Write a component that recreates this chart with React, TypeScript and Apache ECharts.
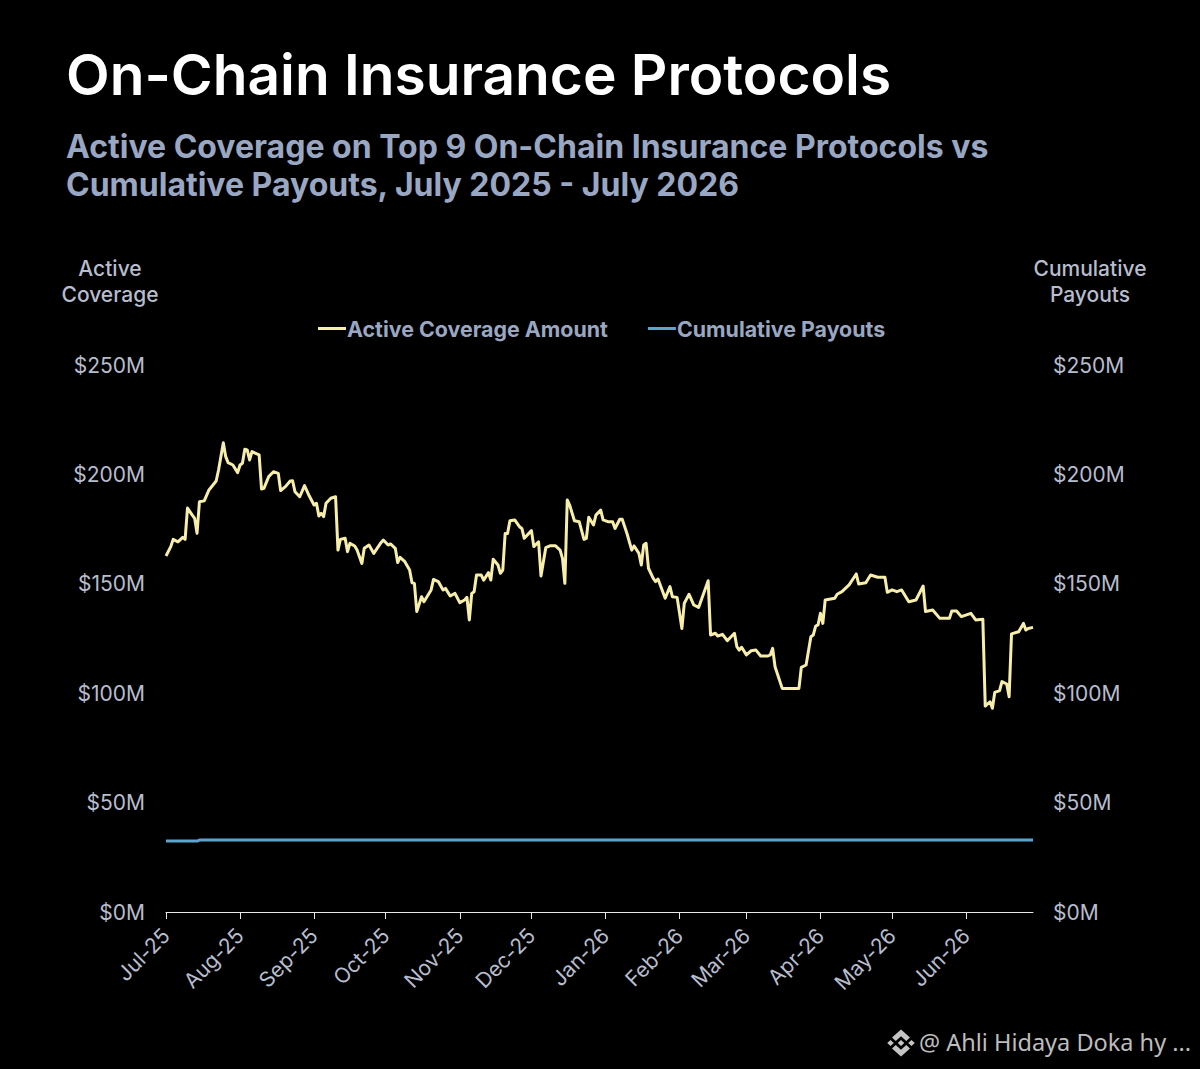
import React, { useEffect, useRef } from "react";
import * as echarts from "echarts";

const titleText = "On-Chain Insurance Protocols";
const subtitleText = "Active Coverage on Top 9 On-Chain Insurance Protocols vs\nCumulative Payouts, July 2025 - July 2026";
const watermarkText = "@ Ahli Hidaya Doka hy ...";

// Days are counted from 1 July 2025.
const monthStartDays = [0, 31, 62, 92, 123, 153, 184, 215, 243, 274, 304, 335];
const monthLabels = ["Jul-25", "Aug-25", "Sep-25", "Oct-25", "Nov-25", "Dec-25", "Jan-26", "Feb-26", "Mar-26", "Apr-26", "May-26", "Jun-26"];
const yTicks = [0, 50, 100, 150, 200, 250];

const coverageDays = [
  0, 2, 3, 5, 7, 8, 9, 11, 12, 13, 14, 16, 18, 20, 21, 22, 24, 25, 26, 28, 30, 31, 32, 33, 34, 35, 36, 39, 40, 41, 43, 45, 47, 48, 50, 52, 53, 54, 56, 58, 60, 62, 63, 64, 65, 66, 67, 69, 71, 72, 73, 75, 76, 77, 79, 80, 82, 83, 85, 87, 90, 91, 93, 94, 96, 97, 98, 100, 102, 103, 104, 105, 107, 108, 111, 112, 114, 116,
  117, 119, 121, 123, 125, 126, 127, 128, 129, 130, 132, 133, 135, 136, 137, 139, 140, 141, 142, 143, 144, 146, 148, 149, 150, 153, 154, 156, 157, 159, 161, 163, 165, 166, 167, 168, 169, 171, 173, 175, 176, 177, 179, 180, 182, 183, 185, 187, 188, 190, 191, 193, 195, 196, 198, 199, 200, 201, 202, 204, 205, 206, 209, 211, 212, 214, 216, 217, 219, 221, 223, 227, 228, 230, 231, 233, 235, 238, 239, 240,
  241, 243, 245, 247, 249, 252, 253, 254, 255, 258, 265, 266, 268, 270, 271, 272, 273, 274, 275, 276, 280, 281, 283, 286, 289, 290, 293, 295, 298, 301, 302, 304, 306, 308, 311, 314, 317, 318, 321, 324, 328, 329, 331, 333, 337, 339, 342, 343, 345, 346, 347, 349, 350, 352, 353, 354, 357, 359, 360, 361, 363,
];
const coverageValues = [
  162.7, 167, 170.3, 169.2, 171.2, 170.3, 184.6, 181.4, 179.9, 173.1, 187.5, 187.9, 192.9, 195.6, 197, 202, 214.5, 208.1, 205.4, 204.3, 200.8, 204.3, 205.1, 211.5, 211.2, 206.6, 210.4, 208.9, 193.3, 193.6, 199, 201.2, 200.5, 192.6, 194.4, 197, 197.1, 192.1, 189.8, 194.9, 190.1, 186, 186.8, 181, 182.2, 180.7, 186.8, 189.1, 189.8, 165.4, 170.3, 170.8, 164.7, 168.5, 167.3, 165.4, 159.3, 166.2, 167.7, 163.9, 168.8, 170, 167.7, 168.2, 166.2, 159.7, 162.1, 160.1, 156.3, 150.5, 150.2, 137.3, 144.1, 141.8, 147.2, 152, 151, 147.2,
  147.9, 144.4, 145.6, 141.4, 142.6, 143.8, 133.5, 145.6, 146.4, 154, 154, 151.7, 155.1, 151.7, 161.2, 158.6, 154.8, 156.3, 173, 173, 178.8, 179.2, 176.1, 175.3, 170.8, 174.3, 167, 169.2, 153.6, 166.5, 167.4, 167.4, 165.4, 161.6, 150.2, 188.3, 186, 178.8, 178.4, 170.3, 170.8, 180.4, 176.9, 181.4, 183.7, 179.2, 178.4, 178.4, 175.3, 179.5, 179.5, 173, 165.4, 167.3, 163.9, 158.6, 167.7, 168.5, 157.1, 152.5, 151, 152.2, 143.4, 148.7, 144.1, 143.8, 129.6, 141.1, 145.2, 140.3, 139.2, 151.4, 126.6, 127.4, 126.1, 126.9, 124, 127.4, 121.3, 119.7,
  121, 117.5, 119.4, 119.7, 117, 117, 117.5, 120.5, 112.1, 102.2, 102.2, 111.8, 112.9, 125.8, 126.6, 130.7, 131.2, 136.5, 131.9, 142.6, 143.4, 145.2, 146.4, 149.5, 154.5, 149.9, 150.5, 154, 153, 153, 146.1, 147.2, 146.4, 147.2, 141.8, 142.6, 149, 137.3, 138, 134.2, 134.2, 137.6, 137.6, 135, 136.5, 133.5, 133.8, 94.1, 96.1, 93.1, 100.4, 101.2, 105.3, 104.2, 98.4, 127.1, 128.1, 131.9, 128.9, 129.6, 130.1,
];

const payoutDays = [0, 13, 14, 363];
const payoutValues = [32.4, 32.4, 32.9, 32.9];

const LOGO_D =
  "M12 2L18 8L15.5 10.5L12 7L8.5 10.5L6 8ZM12 22L18 16L15.5 13.5L12 17L8.5 13.5L6 16ZM12 9.8L14.2 12L12 14.2L9.8 12ZM5 9.8L7.2 12L5 14.2L2.8 12ZM19 9.8L21.2 12L19 14.2L16.8 12Z";
echarts.graphic.registerShape("logo", echarts.graphic.extendPath(LOGO_D, {}));

const FONT = "Inter";
const LABEL = "#b7bdcd";
const SUB = "#9aa7c2";
const YELLOW = "#f6eeaa";
const BLUE = "#5ba6cc";

const pairs = (xs: number[], ys: number[]) => xs.map((x, i) => [x, ys[i]]);

export default function App() {
  const ref = useRef<HTMLDivElement>(null);

  useEffect(() => {
    document.body.style.margin = "0";
    document.body.style.background = "#000";
    const chart = echarts.init(ref.current!, undefined, { renderer: "svg" });
    const yAxisBase = {
      type: "value",
      min: 0,
      max: 250,
      interval: 50,
      splitLine: { show: false },
      axisLine: { show: false },
      axisTick: { show: false },
      nameLocation: "end",
      nameGap: 58,
    };
    const yLabel = { color: LABEL, fontFamily: FONT, fontSize: 21, formatter: (v: number) => `$${v}M` };
    chart.setOption({
      animation: false,
      backgroundColor: "#000000",
      textStyle: { fontFamily: FONT },
      title: [
        {
          text: titleText,
          left: 66,
          top: 41,
          padding: 0,
          textStyle: { color: "#ffffff", fontFamily: FONT, fontSize: 56.8, fontWeight: 600, lineHeight: 66 },
        },
        {
          text: subtitleText,
          left: 66,
          top: 127,
          padding: 0,
          textStyle: { color: SUB, fontFamily: FONT, fontSize: 32, fontWeight: 700, lineHeight: 38 },
        },
      ],
      legend: {
        left: 318,
        top: 318,
        padding: 0,
        itemWidth: 28,
        itemHeight: 3,
        itemGap: 40,
        icon: "rect",
        selectedMode: false,
        textStyle: { color: SUB, fontFamily: FONT, fontSize: 21.4, fontWeight: 700, padding: [0, 0, 0, -4] },
        data: ["Active Coverage Amount", "Cumulative Payouts"],
      },
      grid: { left: 166, right: 167, top: 365, bottom: 157 },
      xAxis: {
        type: "value",
        min: 0,
        max: 363,
        splitLine: { show: false },
        axisLine: { show: true, lineStyle: { color: "#e8e8e8", width: 1 } },
        axisTick: { show: true, length: 7, customValues: monthStartDays, lineStyle: { color: "#e8e8e8", width: 1 } },
        axisLabel: {
          color: LABEL,
          fontFamily: FONT,
          fontSize: 21,
          rotate: 45,
          margin: 20,
          customValues: monthStartDays,
          formatter: (v: number) => monthLabels[monthStartDays.indexOf(v)] ?? "",
        },
      },
      yAxis: [
        {
          ...yAxisBase,
          position: "left",
          name: "Active\nCoverage",
          nameTextStyle: { color: LABEL, fontFamily: FONT, fontSize: 21, fontWeight: 500, lineHeight: 26, align: "center", padding: [0, 112, 0, 0] },
          axisLabel: { ...yLabel, margin: 21, align: "right", customValues: yTicks },
        },
        {
          ...yAxisBase,
          position: "right",
          name: "Cumulative\nPayouts",
          nameTextStyle: { color: LABEL, fontFamily: FONT, fontSize: 21, fontWeight: 500, lineHeight: 26, align: "center", padding: [0, 0, 0, 114] },
          axisLabel: { ...yLabel, margin: 20, align: "left", customValues: yTicks },
        },
      ],
      series: [
        {
          name: "Active Coverage Amount",
          type: "line",
          yAxisIndex: 0,
          data: pairs(coverageDays, coverageValues),
          showSymbol: false,
          symbol: "none",
          itemStyle: { color: YELLOW },
          lineStyle: { color: YELLOW, width: 3, join: "round" },
        },
        {
          name: "Cumulative Payouts",
          type: "line",
          yAxisIndex: 1,
          data: pairs(payoutDays, payoutValues),
          showSymbol: false,
          symbol: "none",
          itemStyle: { color: BLUE },
          lineStyle: { color: BLUE, width: 3 },
        },
      ],
      graphic: [
        {
          type: "logo",
          x: 883,
          y: 1026.8,
          scaleX: 1.5,
          scaleY: 1.35,
          style: { fill: "#c4c4c4" },
        },
        {
          type: "text",
          x: 919,
          y: 1042,
          style: {
            text: watermarkText,
            fill: "#bdbdbd",
            font: "23.5px 'Noto Sans'",
            verticalAlign: "middle",
          },
        },
      ],
    });
    return () => chart.dispose();
  }, []);

  return <div ref={ref} style={{ width: 1200, height: 1069, background: "#000" }} />;
}
